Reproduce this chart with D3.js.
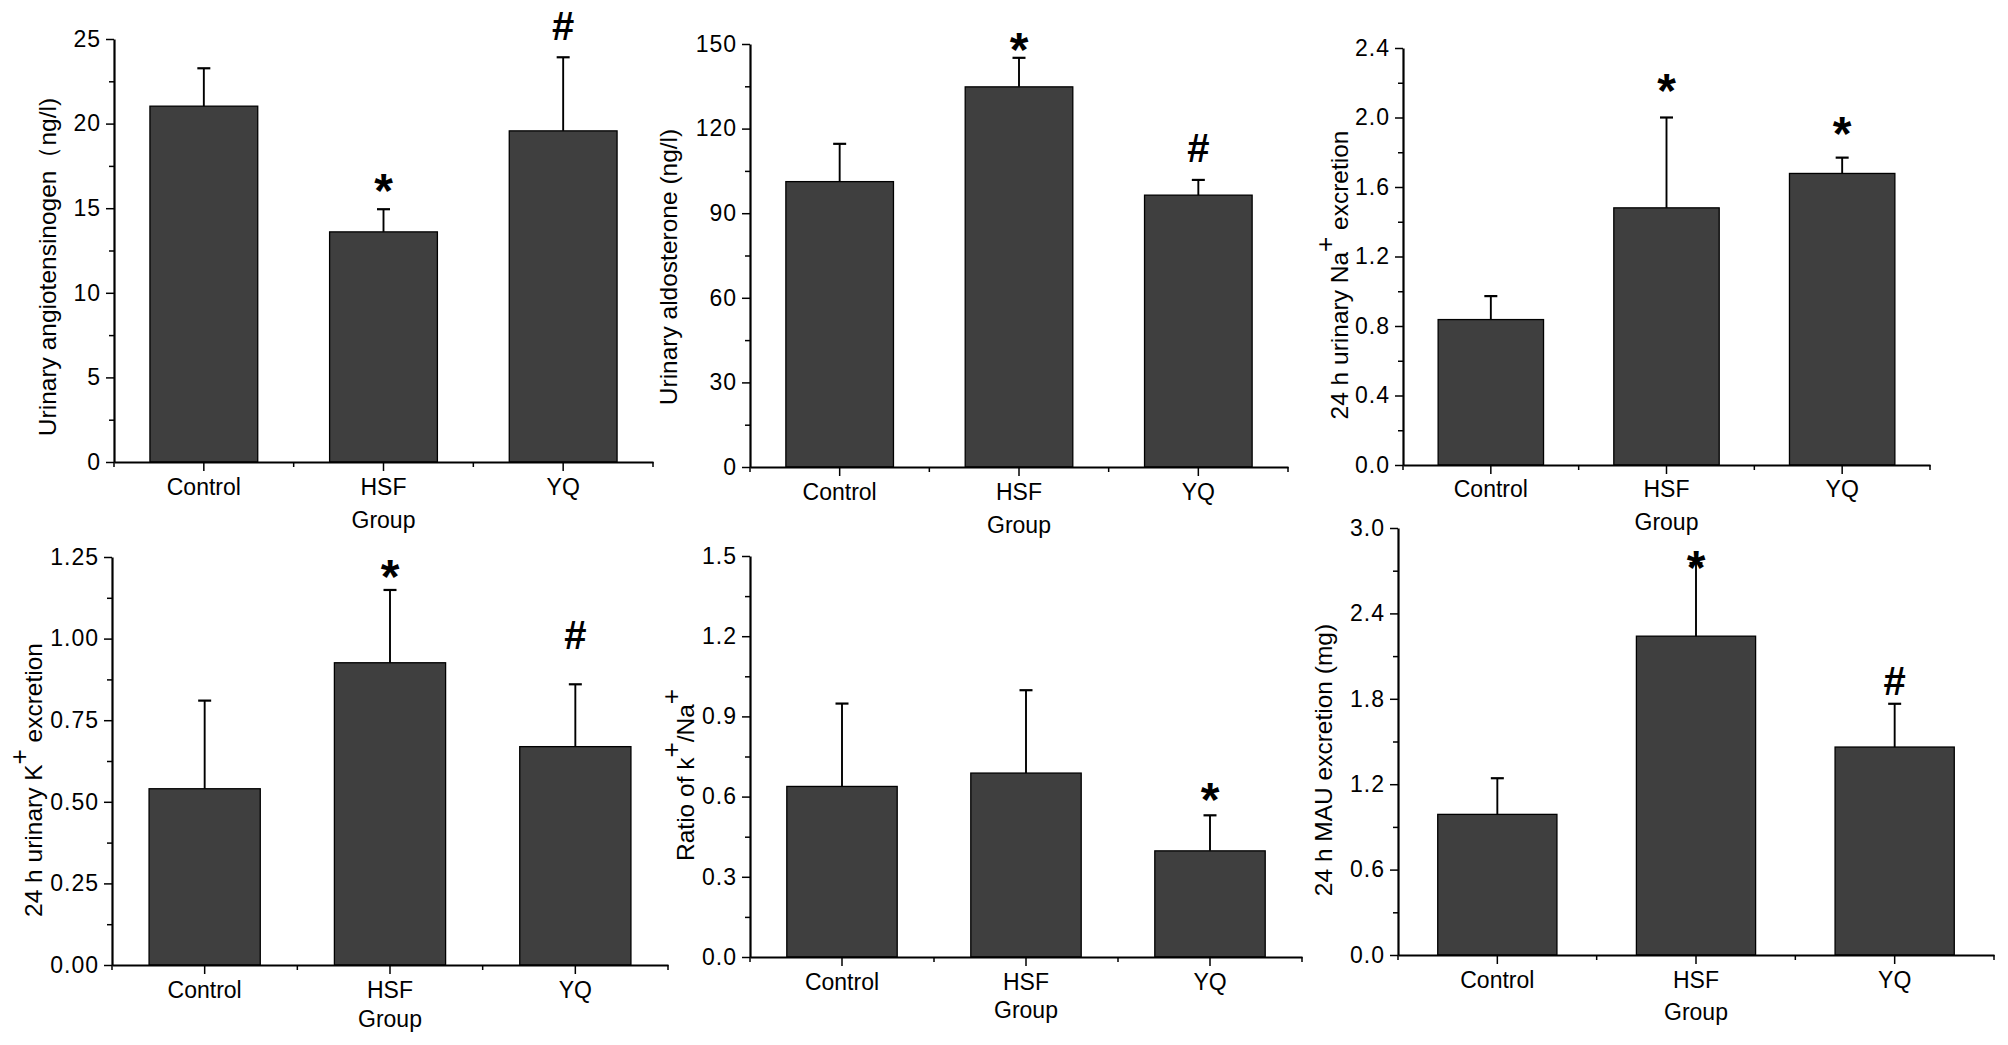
<!DOCTYPE html>
<html>
<head>
<meta charset="utf-8">
<script src="https://cdn.jsdelivr.net/npm/d3@7"></script>
<style>
  body { margin: 0; background: #fff; }
  text { font-family: "Liberation Sans", Arial, sans-serif; fill: #000; }
</style>
</head>
<body>
<div id="chart"></div>
<script>
// groups on every x axis
var categories = ["Control", "HSF", "YQ"];

// means and SD
var angioMean = [21.03, 13.6, 19.57];
var angioSD   = [2.24, 1.34, 4.35];
var aldoMean  = [101.2, 134.8, 96.4];
var aldoSD    = [13.4, 10.3, 5.4];
var naMean    = [0.837, 1.48, 1.678];
var naSD      = [0.135, 0.52, 0.091];
var kMean     = [0.54, 0.926, 0.669];
var kSD       = [0.27, 0.223, 0.191];
var ratioMean = [0.638, 0.688, 0.397];
var ratioSD   = [0.31, 0.31, 0.133];
var mauMean   = [0.988, 2.24, 1.461];
var mauSD     = [0.254, 0.513, 0.304];

// significance marks per group
var angioMarks = ["", "*", "#"];
var aldoMarks  = ["", "*", "#"];
var naMarks    = ["", "*", "*"];
var kMarks     = ["", "*", "#"];
var ratioMarks = ["", "", "*"];
var mauMarks   = ["", "*", "#"];

// y tick values and labels
var angioTicks = [0, 5, 10, 15, 20, 25];
var angioLabels = ["0", "5", "10", "15", "20", "25"];
var aldoTicks = [0, 30, 60, 90, 120, 150];
var aldoLabels = ["0", "30", "60", "90", "120", "150"];
var naTicks = [0, 0.4, 0.8, 1.2, 1.6, 2.0, 2.4];
var naLabels = ["0.0", "0.4", "0.8", "1.2", "1.6", "2.0", "2.4"];
var kTicks = [0, 0.25, 0.5, 0.75, 1.0, 1.25];
var kLabels = ["0.00", "0.25", "0.50", "0.75", "1.00", "1.25"];
var ratioTicks = [0, 0.3, 0.6, 0.9, 1.2, 1.5];
var ratioLabels = ["0.0", "0.3", "0.6", "0.9", "1.2", "1.5"];
var mauTicks = [0, 0.6, 1.2, 1.8, 2.4, 3.0];
var mauLabels = ["0.0", "0.6", "1.2", "1.8", "2.4", "3.0"];

// axis titles, parts flagged sup are superscripts
var angioTitle = [{t: "Urinary angiotensinogen（ng/l)"}];
var aldoTitle  = [{t: "Urinary aldosterone (ng/l)"}];
var naTitle    = [{t: "24 h urinary Na"}, {t: "+", sup: true}, {t: " excretion"}];
var kTitle     = [{t: "24 h urinary K"}, {t: "+", sup: true}, {t: " excretion"}];
var ratioTitle = [{t: "Ratio of k"}, {t: "+", sup: true}, {t: "/Na"}, {t: "+", sup: true}];
var mauTitle   = [{t: "24 h MAU excretion (mg)"}];

var w = 2008;
var h = 1045;

var svg = d3.select("#chart")
    .append("svg")
    .attr("width", w)
    .attr("height", h);

svg.append("rect").attr("width", w).attr("height", h).attr("fill", "#fff");

// panel frames (pixels): y axis x, x axis end, top tick y, zero y, title pos, label rows, mark gaps
var panels = [
    {mean: angioMean, sd: angioSD, marks: angioMarks, ticks: angioTicks, labels: angioLabels, title: angioTitle,
     x0: 114, x1: 653, yTop: 39, yBot: 462, tx: 48, ty: 267, catY: 487, grpY: 520, gap: [0, 30, 31]},
    {mean: aldoMean, sd: aldoSD, marks: aldoMarks, ticks: aldoTicks, labels: aldoLabels, title: aldoTitle,
     x0: 750, x1: 1288, yTop: 44, yBot: 467, tx: 669, ty: 267, catY: 492, grpY: 525, gap: [0, 20, 32]},
    {mean: naMean, sd: naSD, marks: naMarks, ticks: naTicks, labels: naLabels, title: naTitle,
     x0: 1403, x1: 1930, yTop: 48, yBot: 465, tx: 1340, ty: 275, catY: 489, grpY: 522, gap: [0, 39, 36]},
    {mean: kMean, sd: kSD, marks: kMarks, ticks: kTicks, labels: kLabels, title: kTitle,
     x0: 112, x1: 668, yTop: 557, yBot: 965, tx: 34, ty: 780, catY: 990, grpY: 1019, gap: [0, 25, 49]},
    {mean: ratioMean, sd: ratioSD, marks: ratioMarks, ticks: ratioTicks, labels: ratioLabels, title: ratioTitle,
     x0: 750, x1: 1302, yTop: 556, yBot: 957, tx: 686, ty: 775, catY: 982, grpY: 1010, gap: [0, 0, 27]},
    {mean: mauMean, sd: mauSD, marks: mauMarks, ticks: mauTicks, labels: mauLabels, title: mauTitle,
     x0: 1398, x1: 1994, yTop: 528, yBot: 955, tx: 1324, ty: 760, catY: 980, grpY: 1012, gap: [0, 7, 23]}
];

panels.forEach(drawPanel);

function drawPanel(p) {
    var g = svg.append("g");

    var rows = categories.map(function(c, i) {
        return {cat: c, mean: p.mean[i], sd: p.sd[i], mark: p.marks[i], gap: p.gap[i]};
    });

    var xScale = d3.scaleBand()
        .domain(categories)
        .range([p.x0, p.x1])
        .paddingInner(0.4)
        .paddingOuter(0.2);

    var yMax = p.ticks[p.ticks.length - 1];
    var yScale = d3.scaleLinear()
        .domain([0, yMax])
        .range([p.yBot, p.yTop]);

    // bars
    g.selectAll("rect.bar")
        .data(rows)
        .enter()
        .append("rect")
        .attr("class", "bar")
        .attr("x", d => xScale(d.cat))
        .attr("y", d => yScale(d.mean))
        .attr("width", xScale.bandwidth())
        .attr("height", d => yScale(0) - yScale(d.mean))
        .attr("fill", "#3f3f3f")
        .attr("stroke", "#000")
        .attr("stroke-width", 1.3);

    // upper error bars
    var cx = d => xScale(d.cat) + xScale.bandwidth() / 2;
    g.selectAll("line.err")
        .data(rows)
        .enter()
        .append("line")
        .attr("x1", cx).attr("x2", cx)
        .attr("y1", d => yScale(d.mean))
        .attr("y2", d => yScale(d.mean + d.sd))
        .attr("stroke", "#000")
        .attr("stroke-width", 1.9);
    g.selectAll("line.cap")
        .data(rows)
        .enter()
        .append("line")
        .attr("x1", d => cx(d) - 6.5).attr("x2", d => cx(d) + 6.5)
        .attr("y1", d => yScale(d.mean + d.sd))
        .attr("y2", d => yScale(d.mean + d.sd))
        .attr("stroke", "#000")
        .attr("stroke-width", 2.2);

    // significance marks (asterisk glyph sits high, so its baseline drops further)
    g.selectAll("text.mark")
        .data(rows.filter(d => d.mark !== ""))
        .enter()
        .append("text")
        .attr("x", cx)
        .attr("y", d => yScale(d.mean + d.sd) - d.gap + (d.mark === "*" ? 28 : 14))
        .attr("text-anchor", "middle")
        .attr("font-weight", "bold")
        .attr("font-size", d => d.mark === "*" ? "48px" : "40px")
        .text(d => d.mark);

    // y axis with minor ticks
    var minor = [];
    for (var i = 0; i < p.ticks.length - 1; i++) {
        minor.push((p.ticks[i] + p.ticks[i + 1]) / 2);
    }
    var yMinor = d3.axisLeft(yScale)
        .tickValues(minor)
        .tickSize(5)
        .tickSizeOuter(0)
        .tickFormat("");
    var yAxis = d3.axisLeft(yScale)
        .tickValues(p.ticks)
        .tickSize(8)
        .tickSizeOuter(0)
        .tickPadding(5)
        .tickFormat((d, i) => p.labels[i]);

    var ya = g.append("g")
        .attr("transform", "translate(" + p.x0 + ",0)")
        .call(yAxis);
    g.append("g")
        .attr("transform", "translate(" + p.x0 + ",0)")
        .call(yMinor)
        .select(".domain").remove();
    ya.selectAll("text").attr("font-size", "23px").attr("letter-spacing", "1px").attr("font-family", null);

    // x axis, long ticks at group centres
    var xAxis = d3.axisBottom(xScale)
        .tickSize(9)
        .tickSizeOuter(0)
        .tickPadding(9);
    var xa = g.append("g")
        .attr("transform", "translate(0," + p.yBot + ")")
        .call(xAxis);
    xa.selectAll("text").attr("font-size", "23px").attr("font-family", null)
        .attr("y", null).attr("dy", null)
        .attr("transform", "translate(0," + (p.catY - p.yBot + 8) + ")");

    // short ticks at group edges
    var edges = categories.map(c => xScale(c) - xScale.step() * xScale.paddingOuter());
    edges.push(p.x1);
    g.selectAll("line.edge")
        .data(edges)
        .enter()
        .append("line")
        .attr("x1", d => d).attr("x2", d => d)
        .attr("y1", p.yBot).attr("y2", p.yBot + 5)
        .attr("stroke", "#000")
        .attr("stroke-width", 1.5);

    g.selectAll(".domain").attr("stroke-width", 2.2);
    g.selectAll(".tick line").attr("stroke-width", 1.5);

    // x title
    g.append("text")
        .attr("x", (p.x0 + p.x1) / 2)
        .attr("y", p.grpY + 8)
        .attr("text-anchor", "middle")
        .attr("font-size", "23px")
        .text("Group");

    // y title
    var t = g.append("text")
        .attr("transform", "translate(" + (p.tx + 8) + "," + p.ty + ") rotate(-90)")
        .attr("text-anchor", "middle")
        .attr("font-size", "24.5px");
    var raised = false;
    p.title.forEach(function(part) {
        var s = t.append("tspan").text(part.t);
        if (part.sup) s.attr("font-size", "26px");
        if (part.sup && !raised) { s.attr("dy", -14); raised = true; }
        else if (!part.sup && raised) { s.attr("dy", 14); raised = false; }
    });
}
</script>
</body>
</html>
